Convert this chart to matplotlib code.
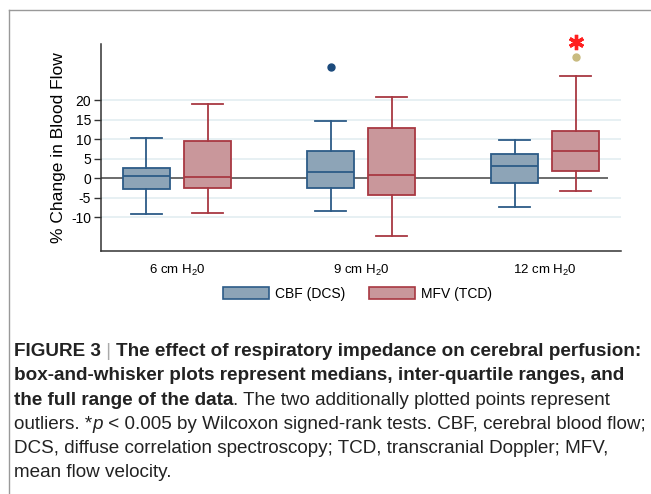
import matplotlib
matplotlib.use("Agg")
import matplotlib.pyplot as plt
from matplotlib.lines import Line2D
from matplotlib.patches import Patch

plt.rcParams["font.family"] = ["Liberation Sans", "DejaVu Sans"]
plt.rcParams["mathtext.default"] = "regular"
plt.rcParams["axes.unicode_minus"] = False

# data
groups = ["6 cm H$_2$0", "9 cm H$_2$0", "12 cm H$_2$0"]
series = ["CBF (DCS)", "MFV (TCD)"]
cbf_low = [-9.3, -8.5, -7.3]
cbf_q1 = [-2.8, -2.4, -1.2]
cbf_med = [0.6, 1.6, 3.0]
cbf_q3 = [2.6, 7.0, 6.1]
cbf_high = [10.2, 14.7, 9.8]
mfv_low = [-8.9, -14.8, -3.3]
mfv_q1 = [-2.6, -4.2, 1.8]
mfv_med = [0.2, 0.9, 6.9]
mfv_q3 = [9.5, 12.8, 12.2]
mfv_high = [19.1, 20.8, 26.1]
cbf_outliers = [[], [28.5], []]
mfv_outliers = [[], [], [31.1]]
significant = [False, False, True]
yticks = [-10, -5, 0, 5, 10, 15, 20]

cbf_face, cbf_edge = "#8da4b7", "#2c5b87"
mfv_face, mfv_edge = "#c9979b", "#a83842"

fig = plt.figure(figsize=(6.51, 4.94), dpi=100)
ax = fig.add_axes([0.1551, 0.4925, 0.7984, 0.4185])

offset = 0.166
width = 0.255
for lows, q1s, meds, q3s, highs, face, edge, sign in [
    (cbf_low, cbf_q1, cbf_med, cbf_q3, cbf_high, cbf_face, cbf_edge, -1),
    (mfv_low, mfv_q1, mfv_med, mfv_q3, mfv_high, mfv_face, mfv_edge, 1),
]:
    stats = [dict(whislo=lo, q1=a, med=m, q3=b, whishi=hi, fliers=[])
             for lo, a, m, b, hi in zip(lows, q1s, meds, q3s, highs)]
    pos = [i + 1 + sign * offset for i in range(len(groups))]
    line = dict(color=edge, linewidth=1.3)
    ax.bxp(stats, positions=pos, widths=width, capwidths=0.17, patch_artist=True,
           showfliers=False, manage_ticks=False,
           boxprops=dict(facecolor=face, edgecolor=edge, linewidth=1.3),
           medianprops=line, whiskerprops=line, capprops=line, zorder=3)

for i, vals in enumerate(cbf_outliers):
    ax.plot([i + 1 - offset] * len(vals), vals, "o", color="#1b4a7c", ms=5, zorder=4, clip_on=False)
for i, vals in enumerate(mfv_outliers):
    ax.plot([i + 1 + offset] * len(vals), vals, "o", color="#c9bb80", ms=5, zorder=4, clip_on=False)
    if significant[i]:
        ax.plot(i + 1 + offset, max(vals) + 3.9, marker=(6, 2, 0), color="#ff2020",
                ms=11, mew=2.4, clip_on=False, zorder=5)

for t in yticks:
    if t != 0:
        ax.axhline(t, color="#e7f0f3", lw=1.4, zorder=1)
ax.hlines(0, 0.587, 3.34, color="#444444", lw=1.1, zorder=2)

ax.set_xlim(0.587, 3.41)
ax.set_ylim(-18.6, 34.4)
ax.set_yticks(yticks)
ax.set_xticks(range(1, len(groups) + 1))
ax.set_xticklabels(groups, fontsize=9.5)
ax.tick_params(axis="y", labelsize=10, length=5, width=1, color="#333333", pad=2)
ax.tick_params(axis="x", length=0, pad=9)
ax.set_ylabel("% Change in Blood Flow", fontsize=12.5, labelpad=4)
for s in ("top", "right"):
    ax.spines[s].set_visible(False)
for s in ("left", "bottom"):
    ax.spines[s].set_color("#333333")
    ax.spines[s].set_linewidth(1.1)

handles = [Patch(facecolor=cbf_face, edgecolor=cbf_edge, lw=1.2),
           Patch(facecolor=mfv_face, edgecolor=mfv_edge, lw=1.2)]
fig.legend(handles, series, loc="center", bbox_to_anchor=(0.549, 0.405), ncol=2,
           frameon=False, fontsize=10, handlelength=3.3, handleheight=1.0,
           handletextpad=0.45, columnspacing=1.7)

# frame lines of the figure panel
fig.add_artist(Line2D([9 / 651, 1], [1 - 10 / 494] * 2, color="#999999", lw=1))
fig.add_artist(Line2D([9 / 651] * 2, [0, 1 - 10 / 494], color="#999999", lw=1))

# caption, built from pieces with mixed weight / style
caption = [
    [("FIGURE 3", "bold", "normal", "#222222"), (" | ", "normal", "normal", "#aaaaaa"),
     ("The effect of respiratory impedance on cerebral perfusion:", "bold", "normal", "#222222")],
    [("box-and-whisker plots represent medians, inter-quartile ranges, and", "bold", "normal", "#222222")],
    [("the full range of the data", "bold", "normal", "#222222"),
     (". The two additionally plotted points represent", "normal", "normal", "#222222")],
    [("outliers. *", "normal", "normal", "#222222"), ("p", "normal", "italic", "#222222"),
     (" < 0.005 by Wilcoxon signed-rank tests. CBF, cerebral blood flow;", "normal", "normal", "#222222")],
    [("DCS, diffuse correlation spectroscopy; TCD, transcranial Doppler; MFV,", "normal", "normal", "#222222")],
    [("mean flow velocity.", "normal", "normal", "#222222")],
]
renderer = fig.canvas.get_renderer()
cap_size = 13.6
for k, pieces in enumerate(caption):
    x = 14 / 651
    y = 1 - (352 + 24 * k) / 494
    for txt, weight, style, col in pieces:
        t = fig.text(x, y, txt, fontsize=cap_size, fontweight=weight, fontstyle=style,
                     color=col, va="center", ha="left")
        bb = t.get_window_extent(renderer)
        x += bb.width / fig.bbox.width

fig.savefig("out.png", dpi=100)
